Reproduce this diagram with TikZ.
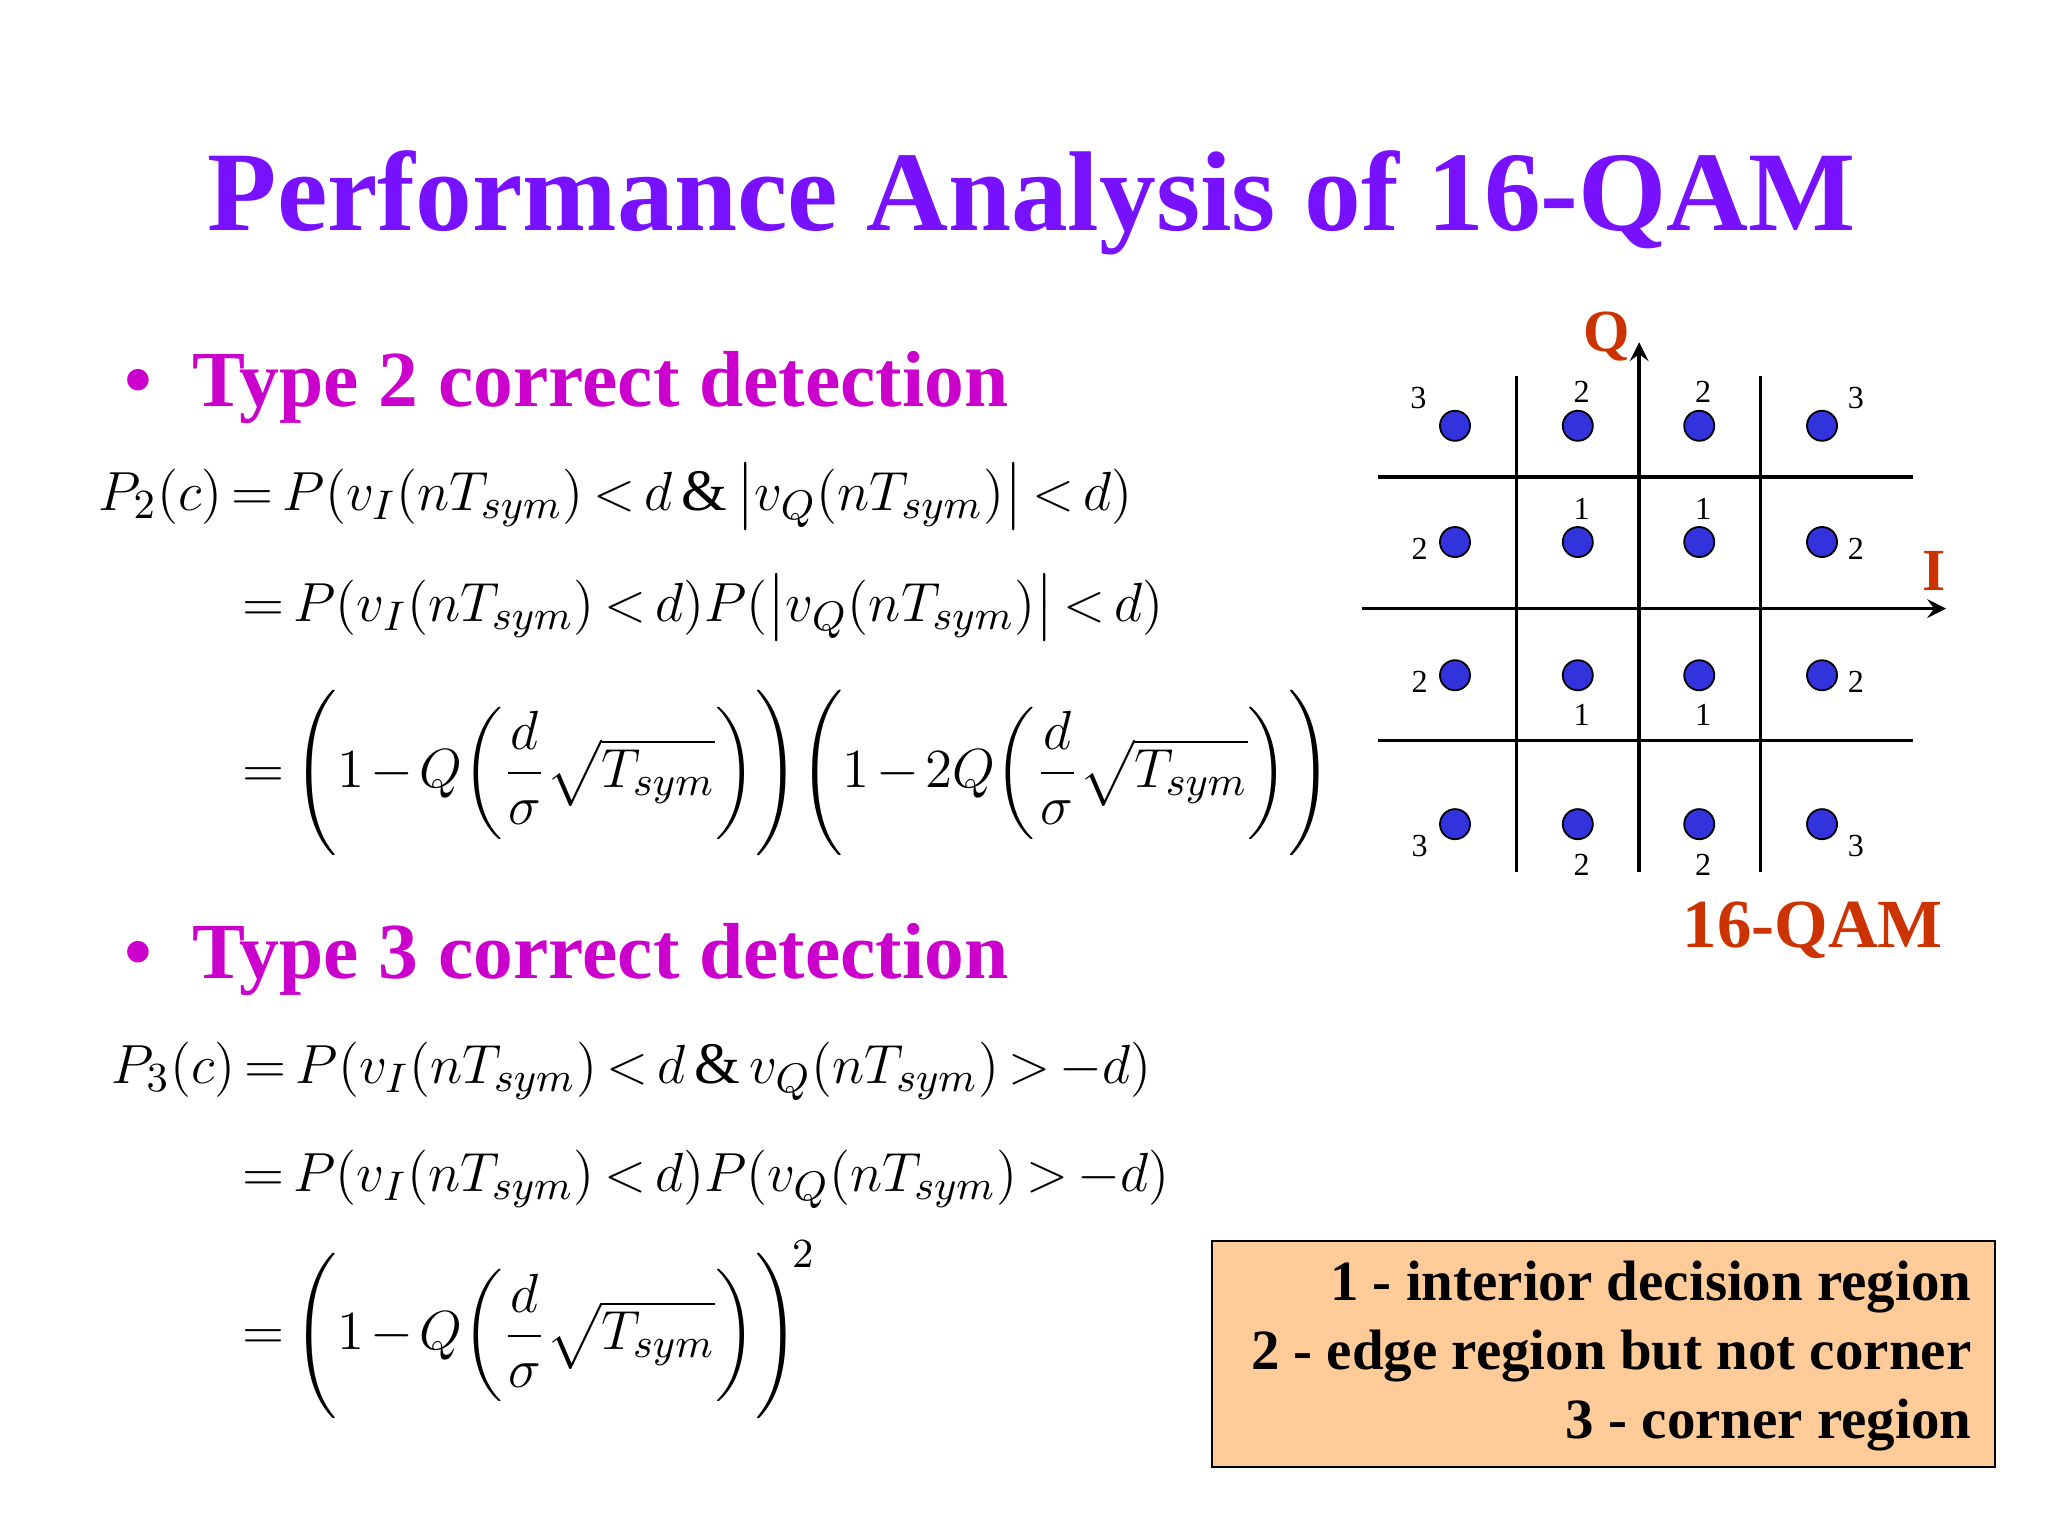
\documentclass[tikz,border=0pt]{standalone}
\usepackage{amsmath}
\usepackage{fontspec}
\setmainfont{Liberation Serif}
\definecolor{ttl}{RGB}{119,17,255}
\definecolor{bul}{RGB}{204,0,204}
\definecolor{org}{RGB}{204,51,0}
\definecolor{dotc}{RGB}{51,51,221}
\definecolor{boxc}{RGB}{255,204,153}
\thickmuskip=3mu plus 2mu\relax
\medmuskip=2mu plus 1mu\relax
\begin{document}
\begin{tikzpicture}[x=0.01cm,y=-0.01cm,
  eq/.style={anchor=west,inner sep=0pt,font=\fontsize{12.8}{16}\selectfont},
  bullet/.style={anchor=west,inner sep=0pt,text=bul,font=\fontsize{17.3}{21}\selectfont\bfseries},
  num/.style={inner sep=0pt,font=\fontsize{7}{8}\selectfont},
  dot/.style={circle,draw=black,fill=dotc,minimum size=0.23cm,inner sep=0pt},
  gl/.style={draw,line width=0.8pt}]
\useasboundingbox (0,0) rectangle (1568,1176);
\node[inner sep=0pt,text=ttl,font=\fontsize{24.7}{29}\selectfont\bfseries] (title) at (790,155) {Performance Analysis of 16-QAM};
\node[bullet] (b1) at (95,297) {•\hspace{0.5em}Type 2 correct detection};
\node[bullet] (b2) at (95,735) {•\hspace{0.5em}Type 3 correct detection};
\node[eq] (e1) at (75,380) {$P_2(c)=P(v_I(nT_{sym})<d\,\&\,\bigl|v_Q(nT_{sym})\bigr|<d)$};
\node[eq] (e2) at (185,465) {$=P(v_I(nT_{sym})<d)P(\bigl|v_Q(nT_{sym})\bigr|<d)$};
\node[eq] (e3) at (185,592) {$=\Biggl(1-Q\biggl(\dfrac{d}{\sigma}\sqrt{T_{sym}}\biggr)\Biggr)\Biggl(1-2Q\biggl(\dfrac{d}{\sigma}\sqrt{T_{sym}}\biggr)\Biggr)$};
\node[eq] (e4) at (85,820) {$P_3(c)=P(v_I(nT_{sym})<d\,\&\,v_Q(nT_{sym})>-d)$};
\node[eq] (e5) at (185,903) {$=P(v_I(nT_{sym})<d)P(v_Q(nT_{sym})>-d)$};
\node[eq] (e6) at (185,1018) {$=\Biggl(1-Q\biggl(\dfrac{d}{\sigma}\sqrt{T_{sym}}\biggr)\Biggr)^{\!2}$};
% constellation
\foreach \x in {1161,1348} \draw[gl] (\x,288) -- (\x,668);
\foreach \y in {365,567} \draw[gl] (1055,\y) -- (1465,\y);
\coordinate (il) at (1043,466); \coordinate (ir) at (1490,466);
\coordinate (qb) at (1255,668); \coordinate (qt) at (1255,262);
\draw[gl,-stealth] (il) -- (ir);
\draw[gl,-stealth] (qb) -- (qt);
\node[text=org,font=\fontsize{13}{16}\selectfont\bfseries] (Q) at (1230,258) {Q};
\node[text=org,font=\fontsize{13}{16}\selectfont\bfseries] (I) at (1481,437) {I};
\foreach \x [count=\i] in {1114,1208,1301,1395}
  \foreach \y [count=\j] in {326,415,517,631}
    \node[dot] (d\i\j) at (\x,\y) {};
\foreach \x/\y/\t in {1086/305/3,1211/300/2,1304/300/2,1421/305/3,
  1087/420/2,1211/390/1,1304/390/1,1421/420/2,
  1087/522/2,1211/547/1,1304/547/1,1421/522/2,
  1087/648/3,1211/662/2,1304/662/2,1421/648/3}
  \node[num] at (\x,\y) {\t};
\node[text=org,font=\fontsize{15}{18}\selectfont\bfseries] (qam) at (1388,712) {16-QAM};
\node[draw,fill=boxc,minimum width=5.99cm,minimum height=1.73cm,inner sep=0pt] (box) at (1227.5,1036.5) {};
\node[anchor=east,align=right,inner sep=0pt,font=\fontsize{12.4}{15}\selectfont\bfseries] (legend) at (1510,1038)
 {1 - interior decision region\\2 - edge region but not corner\\3 - corner region};
\end{tikzpicture}
\end{document}
